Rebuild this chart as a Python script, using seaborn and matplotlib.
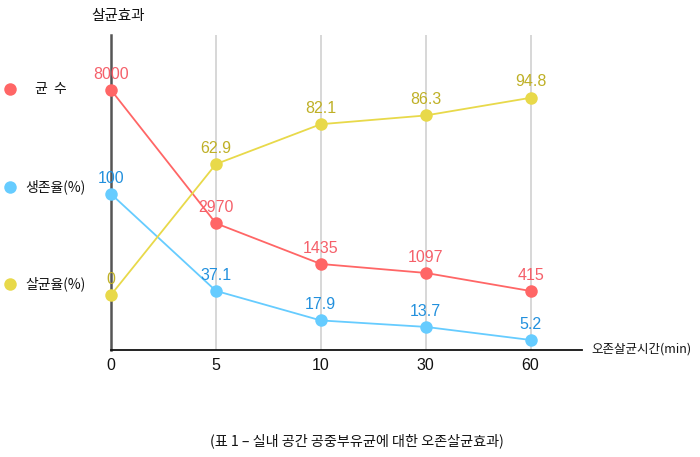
import numpy as np
import pandas as pd
import matplotlib
matplotlib.use("Agg")
import matplotlib.pyplot as plt
from matplotlib.lines import Line2D
import seaborn as sns

sns.set_theme(style="white")
plt.rcParams['font.family'] = ['Noto Sans CJK KR', 'DejaVu Sans']

# --- data
times = ["0", "5", "10", "30", "60"]
bacteria = [8000, 2970, 1435, 1097, 415]
survival = [100, 37.1, 17.9, 13.7, 5.2]
sterilize = [0, 62.9, 82.1, 86.3, 94.8]
series_names = ["균  수", "생존율(%)", "살균율(%)"]

point_colors = ["#FF6666", "#66CCFF", "#E8D94A"]
label_colors = ["#F5606A", "#2290DD", "#BFB026"]
num_font = ['Liberation Sans', 'Noto Sans CJK KR']

df = pd.DataFrame({"pos": np.arange(len(times)),
                   "bacteria": bacteria,
                   "survival": survival,
                   "sterilize": sterilize})

fig = plt.figure(figsize=(7, 4.57), dpi=100)
ax = fig.add_axes([111 / 700, 1 - 350 / 457, 471 / 700, 315 / 457])

ax.set_xlim(0, 4.49)
ax.set_ylim(0, 1)
ax.set_yticks([])
ax.set_xticks(df["pos"])
ax.set_xticklabels(times, family=num_font, fontsize=11.5, color="#111111")
ax.tick_params(axis="x", length=0, pad=6)
for p in df["pos"][1:]:
    ax.axvline(p, color="#D4D4D4", lw=1.3, zorder=0)
for s in ["top", "right"]:
    ax.spines[s].set_visible(False)
ax.spines["left"].set_color("#555555")
ax.spines["left"].set_linewidth(1.8)
ax.spines["bottom"].set_color("#111111")
ax.spines["bottom"].set_linewidth(1.3)

# each series on its own hidden scale
limits = [(-1811, 10075), (-1.3, 203.2), (-26.5, 125)]
cols = ["bacteria", "survival", "sterilize"]
for col, lim, pc, lc in zip(cols, limits, point_colors, label_colors):
    tw = ax.twinx()
    tw.set_ylim(*lim)
    tw.set_xlim(0, 4.49)
    tw.set_yticks([])
    for s in tw.spines.values():
        s.set_visible(False)
    sns.lineplot(data=df, x="pos", y=col, ax=tw, color=pc, lw=1.3,
                 marker="o", markersize=9, markeredgewidth=0, clip_on=False)
    tw.set_xlabel("")
    tw.set_ylabel("")
    for x, v in zip(df["pos"], df[col]):
        txt = f"{v:g}"
        tw.annotate(txt, (x, v), xytext=(0, 6), textcoords="offset points",
                    ha="center", va="bottom", fontsize=11.5, color=lc,
                    family=num_font)

# legend on the left
legend_y = [89, 187, 284]
legend_x = [35, 25, 25]
for name, y, tx, pc in zip(series_names, legend_y, legend_x, point_colors):
    fig.add_artist(Line2D([10 / 700], [1 - y / 457], marker="o", markersize=9,
                          markeredgewidth=0, color=pc, transform=fig.transFigure))
    fig.text(tx / 700, 1 - y / 457, name, ha="left", va="center",
             fontsize=10, color="#111111")

fig.text(118 / 700, 1 - 16 / 457, "살균효과", ha="center", va="center",
         fontsize=10.5, color="#111111")
fig.text(591 / 700, 1 - 349 / 457, "오존살균시간(min)", ha="left", va="center",
         fontsize=9, color="#111111")
fig.text(357 / 700, 1 - 441 / 457, "(표 1 – 실내 공간 공중부유균에 대한 오존살균효과)",
         ha="center", va="center", fontsize=10.2, color="#111111")

fig.savefig("out.png", dpi=100)
